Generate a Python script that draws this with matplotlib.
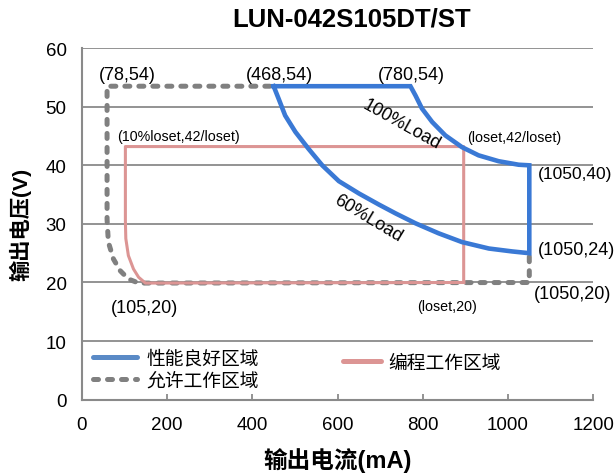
import matplotlib
matplotlib.use("Agg")
from matplotlib import pyplot as plt
from matplotlib.lines import Line2D

plt.rcParams['font.family'] = ['Liberation Sans', 'Noto Sans CJK SC', 'DejaVu Sans']

TITLE = "LUN-042S105DT/ST"
X_LABEL = "输出电流(mA)"
Y_LABEL = "输出电压(V)"
X_TICKS = [0, 200, 400, 600, 800, 1000, 1200]
Y_TICKS = [0, 10, 20, 30, 40, 50, 60]

# good performance area: 60% load curve, right edge, 100% load curve, top edge
load60_x = [450, 462, 477, 501, 532, 564, 603, 650, 697, 736, 783, 837, 892, 955, 1010, 1050]
load60_y = [53.5, 51.3, 48.5, 45.7, 42.8, 40.0, 37.3, 35.2, 33.3, 31.8, 30.1, 28.4, 26.9, 25.8, 25.3, 25.0]
load100_x = [1050, 1025, 978, 931, 892, 853, 822, 798, 783, 771]
load100_y = [40.0, 40.1, 40.7, 41.7, 43.1, 45.1, 47.4, 49.7, 51.9, 53.5]
good_x = load60_x + load100_x + [450]
good_y = load60_y + load100_y + [53.5]

# allowed area (dashed)
allow_x = [1050, 1050, 133, 109, 90, 74, 62, 59, 59, 450]
allow_y = [24.4, 20.0, 19.9, 20.6, 22.0, 24.0, 26.9, 30.8, 53.5, 53.5]

# programming area
prog_x = [896, 896, 102, 102, 103, 109, 121, 133, 149, 896]
prog_y = [20.0, 43.2, 43.2, 30.5, 27.5, 24.6, 22.3, 20.9, 19.9, 20.0]

LABELS = [
    ("(78,54)", 106, 55.5, 13),
    ("(468,54)", 463, 55.5, 13),
    ("(780,54)", 773, 55.5, 13),
    ("(10%loset,42/loset)", 226, 45.0, 10.3),
    ("(loset,42/loset)", 1015, 44.9, 10.3),
    ("(1050,40)", 1070, 38.6, 12.5),
    ("(1050,24)", 1071, 25.7, 13),
    ("(1050,20)", 1060, 18.1, 13),
    ("(loset,20)", 858, 16.0, 10.3),
    ("(105,20)", 146, 15.8, 13),
]

fig = plt.figure(figsize=(6.16, 4.77), dpi=100)
ax = fig.add_axes([0.133, 0.16, 0.83, 0.737])

grid_color = '#8a8a8a'
for y in Y_TICKS[1:]:
    ax.axhline(y, color=grid_color, lw=1.3, zorder=1)

ax.plot(allow_x, allow_y, color='#808080', lw=3.6, dashes=(1.0, 1.8),
        dash_capstyle='round', zorder=3)
ax.plot(prog_x, prog_y, color='#dc9594', lw=2.2, zorder=4)
ax.plot(good_x, good_y, color='#3a79d5', lw=3.3, solid_joinstyle='miter', zorder=5)

for txt, x, y, fs in LABELS:
    ha = 'left' if x > 1050 else 'center'
    ax.text(x, y, txt, fontsize=fs, ha=ha, va='center', zorder=6)

ax.text(750, 47.0, "100%Load", fontsize=13, rotation=-29, ha='center', va='center', zorder=6)
ax.text(673, 31.0, "60%Load", fontsize=13, rotation=-31, ha='center', va='center', zorder=6)

ax.set_xlim(0, 1200)
ax.set_ylim(0, 60)
ax.set_xticks(X_TICKS)
ax.set_yticks(Y_TICKS)
ax.tick_params(axis='x', direction='in', length=4, width=1.3, color=grid_color,
               labelsize=13.5, pad=12)
ax.tick_params(axis='y', length=0, labelsize=13.5, pad=11)
for s in ['top', 'right']:
    ax.spines[s].set_visible(False)
for s in ['left', 'bottom']:
    ax.spines[s].set_color(grid_color)
    ax.spines[s].set_linewidth(1.5)

ax.set_title(TITLE, fontsize=18.5, fontweight='bold', pad=16, x=0.527)
ax.set_xlabel(X_LABEL, fontsize=17, fontweight='bold', labelpad=10)
ax.set_ylabel(Y_LABEL, fontsize=15.3, fontweight='bold', labelpad=10)

h1 = Line2D([], [], color='#5a8ac6', lw=3.6, solid_capstyle='round')
h2 = Line2D([], [], color='#808080', lw=3.6, dashes=(1.0, 1.8), dash_capstyle='round')
h3 = Line2D([], [], color='#dc9594', lw=3.6, solid_capstyle='round')
leg1 = ax.legend([h1, h2], ["性能良好区域", "允许工作区域"], loc='center left',
                 bbox_to_anchor=(0.022, 0.086), frameon=False, fontsize=13.5,
                 handlelength=2.35, handletextpad=0.5, labelspacing=0.22,
                 borderpad=0, borderaxespad=0)
ax.add_artist(leg1)
ax.legend([h3], ["编程工作区域"], loc='center left', bbox_to_anchor=(0.511, 0.104),
          frameon=False, fontsize=13.5, handlelength=2.0, handletextpad=0.4,
          borderpad=0, borderaxespad=0)

fig.savefig("out.png", dpi=100)
